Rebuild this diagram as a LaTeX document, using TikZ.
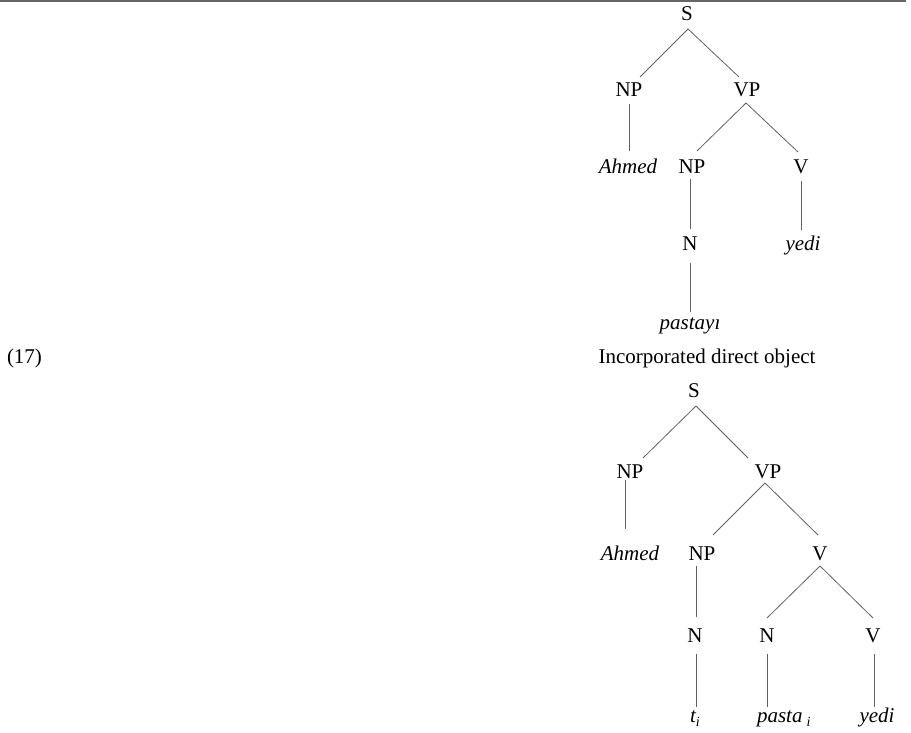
\documentclass[tikz,border=0pt]{standalone}
\usepackage{fontspec}
\setmainfont{Liberation Serif}
\usetikzlibrary{calc}

\newcommand\subi{\raisebox{-0.22em}{\fontsize{14}{14}\selectfont\itshape i}}

\tikzset{
  lab/.style={font=\fontsize{21}{25}\selectfont, inner sep=0pt, outer sep=0pt,
              anchor=base, text height=14pt, text depth=0pt},
  word/.style={lab, font=\fontsize{21}{25}\selectfont\itshape},
  branch/.style={draw=black!62, line width=0.8pt},
  rule/.style={draw=black!60, line width=2pt}
}

\begin{document}
\begin{tikzpicture}[x=1pt, y=-1pt]
\useasboundingbox (0,0) rectangle (911,733);

% rule across the top of the page
\coordinate (ruleL) at (0,1);
\coordinate (ruleR) at (906,1);
\draw[rule] (ruleL) -- (ruleR);

% ---------- first tree ----------
\node[lab]  (s1)      at (687,21)  {S};
\node[lab]  (np1)     at (629,97)  {NP};
\node[lab]  (vp1)     at (747,97)  {VP};
\node[word] (ahmed1)  at (628,174) {Ahmed};
\node[lab]  (np2)     at (692,174) {NP};
\node[lab]  (v1)      at (801,174) {V};
\node[lab]  (n1)      at (690,251) {N};
\node[word] (yedi1)   at (803,250) {yedi};
\node[word] (pastayi) at (690,329) {pastayı};

\draw[branch] ($(s1.south)+(1pt,-8pt)$)  -- ($(np1.north)+(11pt,6pt)$);
\draw[branch] ($(s1.south)+(1pt,-8pt)$)  -- ($(vp1.north)+(-8pt,6pt)$);
\draw[branch] ($(vp1.south)+(-1pt,-6pt)$) -- ($(np2.north)+(5pt,9pt)$);
\draw[branch] ($(vp1.south)+(-1pt,-6pt)$) -- ($(v1.north)+(-3pt,8pt)$);
\draw[branch] ($(np1.south)+(0,-7pt)$) -- ($(np1.south |- ahmed1.north)+(0,9pt)$);
\draw[branch] ($(np2.south -| n1.south)+(0,-5pt)$) -- ($(n1.north)+(0,8pt)$);
\draw[branch] ($(n1.south)+(0,-12pt)$) -- ($(n1.south |- pastayi.north)+(0,3pt)$);
\draw[branch] ($(v1.south)+(0,-7pt)$) -- ($(v1.south |- yedi1.north)+(0,6pt)$);

% ---------- example (17) ----------
\node[lab, anchor=base west] (exno)  at (7,363)   {(17)};
\node[lab]                   (title) at (707,363) {Incorporated direct object};

\node[lab]  (s2)     at (694,397) {S};
\node[lab]  (np3)    at (630,478) {NP};
\node[lab]  (vp2)    at (768,478) {VP};
\node[word] (ahmed2) at (630,560) {Ahmed};
\node[lab]  (np4)    at (702,560) {NP};
\node[lab]  (v2)     at (820,560) {V};
\node[lab]  (n2)     at (695,642) {N};
\node[lab]  (n3)     at (767,642) {N};
\node[lab]  (v3)     at (873,642) {V};
\node[word] (ti)     at (695,722) {t\subi};
\node[word, anchor=base west] (pasta) at (757,722) {pasta\hspace{4pt}\subi};
\node[word] (yedi2)  at (877,722) {yedi};

\draw[branch] ($(s2.south)+(2pt,-9pt)$)  -- ($(np3.north)+(13pt,6pt)$);
\draw[branch] ($(s2.south)+(2pt,-9pt)$)  -- ($(vp2.north)+(-20pt,6pt)$);
\draw[branch] ($(vp2.south)+(-3pt,-5pt)$) -- ($(np4.north)+(11pt,11pt)$);
\draw[branch] ($(vp2.south)+(-3pt,-5pt)$) -- ($(v2.north)+(-2pt,11pt)$);
\draw[branch] ($(v2.south)+(0,-6pt)$) -- ($(n3.north)+(0,10pt)$);
\draw[branch] ($(v2.south)+(0,-6pt)$) -- ($(v3.north)+(0,10pt)$);
\draw[branch] ($(np3.south)+(-5pt,-2pt)$) -- ($(np3.south |- ahmed2.north)+(-5pt,17pt)$);
\draw[branch] ($(np4.south -| n2.south)+(1pt,-6pt)$) -- ($(n2.north)+(1pt,11pt)$);
\draw[branch] ($(n2.south)+(1pt,-12pt)$) -- ($(n2.south |- ti.north)+(1pt,1pt)$);
\draw[branch] ($(n3.south)+(0,-12pt)$) -- ($(n3.south |- pasta.north)+(0,1pt)$);
\draw[branch] ($(v3.south)+(1pt,-12pt)$) -- ($(v3.south |- yedi2.north)+(1pt,1pt)$);
\end{tikzpicture}
\end{document}
